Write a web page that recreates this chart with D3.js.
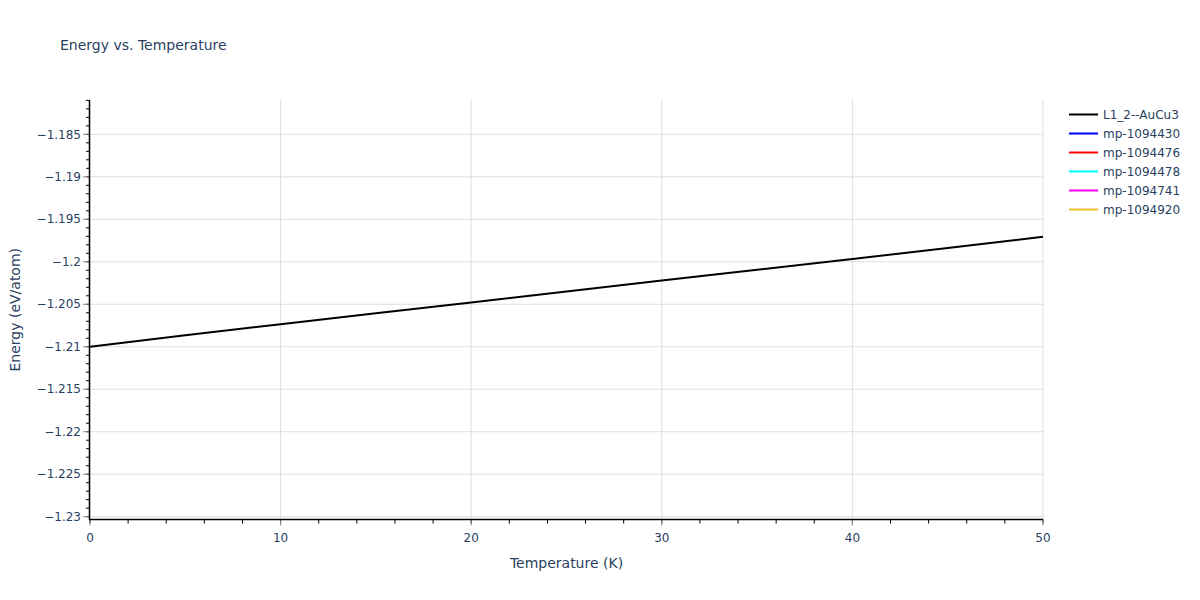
<!DOCTYPE html>
<html><head><meta charset="utf-8">
<script src="https://cdn.jsdelivr.net/npm/d3@7"></script>
<style>body{margin:0;background:#fff;} svg{display:block;font-family:"DejaVu Sans",verdana,arial,sans-serif;}</style>
</head><body>
<svg id="c" width="1200" height="600"></svg>
<script>
const temperatures = [0, 5, 10, 15, 20, 25, 30, 35, 40, 45, 50];
const energyL12 = [-1.2100, -1.20865, -1.20735, -1.20605, -1.20480, -1.20350, -1.20220, -1.20095, -1.19968, -1.19837, -1.19706];
const seriesNames = ["L1_2--AuCu3", "mp-1094430", "mp-1094476", "mp-1094478", "mp-1094741", "mp-1094920"];
const seriesColors = ["#000000", "#0000ff", "#ff0000", "#00ffff", "#ff00ff", "#f0c030"];
const seriesValues = [energyL12, [], [], [], [], []];
const yTicks = [-1.185, -1.19, -1.195, -1.2, -1.205, -1.21, -1.215, -1.22, -1.225, -1.23];
const xTicks = [0, 10, 20, 30, 40, 50];

const svg = d3.select("#c");
const L = 90, R = 1043, T = 100, B = 519.5;
const x = d3.scaleLinear().domain([0, 50]).range([L, R]);
const y = d3.scaleLinear().domain([-1.23033, -1.18096]).range([B, T]);
const txt = "#2a3f5f";

// grid
svg.append("g").selectAll("line").data(yTicks).join("line")
  .attr("x1", L).attr("x2", R).attr("y1", d => y(d)).attr("y2", d => y(d))
  .attr("stroke", "#dedede").attr("stroke-width", 1);
svg.append("g").selectAll("line").data(xTicks.slice(1)).join("line")
  .attr("y1", T).attr("y2", B).attr("x1", d => x(d)).attr("x2", d => x(d))
  .attr("stroke", "#dedede").attr("stroke-width", 1);

// minor ticks
const yMinor = d3.range(-1.230, -1.1805, 0.001).filter(v => y(v) >= T - 0.5);
svg.append("g").selectAll("line").data(yMinor).join("line")
  .attr("x1", L - 4).attr("x2", L).attr("y1", d => y(d)).attr("y2", d => y(d))
  .attr("stroke", "#000").attr("stroke-width", 1);
const xMinor = d3.range(0, 50.01, 2);
svg.append("g").selectAll("line").data(xMinor).join("line")
  .attr("y1", B).attr("y2", B + 4).attr("x1", d => x(d)).attr("x2", d => x(d))
  .attr("stroke", "#000").attr("stroke-width", 1);

// major ticks
svg.append("g").selectAll("line").data(yTicks).join("line")
  .attr("x1", L - 7).attr("x2", L).attr("y1", d => y(d)).attr("y2", d => y(d))
  .attr("stroke", "#888").attr("stroke-width", 1);
svg.append("g").selectAll("line").data(xTicks).join("line")
  .attr("y1", B).attr("y2", B + 6).attr("x1", d => x(d)).attr("x2", d => x(d))
  .attr("stroke", "#888").attr("stroke-width", 1);

// axis lines
svg.append("line").attr("x1", L - 0.5).attr("x2", L - 0.5).attr("y1", T).attr("y2", B + 0.5).attr("stroke", "#000").attr("stroke-width", 1.5);
svg.append("line").attr("x1", L - 1).attr("x2", R).attr("y1", B).attr("y2", B).attr("stroke", "#000").attr("stroke-width", 1.5);

// tick labels
const fmt = v => String(+v.toFixed(3)).replace("-", "\u2212");
svg.append("g").selectAll("text").data(yTicks).join("text")
  .attr("x", L - 9).attr("y", d => y(d)).attr("dy", "0.35em")
  .attr("text-anchor", "end").attr("font-size", 12).attr("fill", txt).text(fmt);
svg.append("g").selectAll("text").data(xTicks).join("text")
  .attr("x", d => x(d)).attr("y", B + 22)
  .attr("text-anchor", "middle").attr("font-size", 12).attr("fill", txt).text(d => d);

// lines
const line = d3.line().x((d, i) => x(temperatures[i])).y(d => y(d));
seriesValues.forEach((vals, i) => {
  if (!vals.length) return;
  svg.append("path").datum(vals).attr("d", line)
    .attr("fill", "none").attr("stroke", seriesColors[i]).attr("stroke-width", 2);
});

// titles
svg.append("text").attr("x", 60).attr("y", 50).attr("font-size", 14).attr("fill", txt).text("Energy vs. Temperature");
svg.append("text").attr("x", (L + R) / 2).attr("y", 568).attr("text-anchor", "middle")
  .attr("font-size", 14).attr("fill", txt).text("Temperature (K)");
svg.append("text").attr("transform", `translate(15,${(T + B) / 2}) rotate(-90)`)
  .attr("text-anchor", "middle").attr("dy", "0.35em").attr("font-size", 14).attr("fill", txt).text("Energy (eV/atom)");

// legend
const lg = svg.append("g").selectAll("g").data(seriesNames).join("g")
  .attr("transform", (d, i) => `translate(1069,${114.5 + i * 19})`);
lg.append("line").attr("x1", 0).attr("x2", 29).attr("stroke", (d, i) => seriesColors[i]).attr("stroke-width", 2);
lg.append("text").attr("x", 34).attr("dy", "0.35em").attr("font-size", 12).attr("fill", txt).text(d => d);
</script>
</body></html>
